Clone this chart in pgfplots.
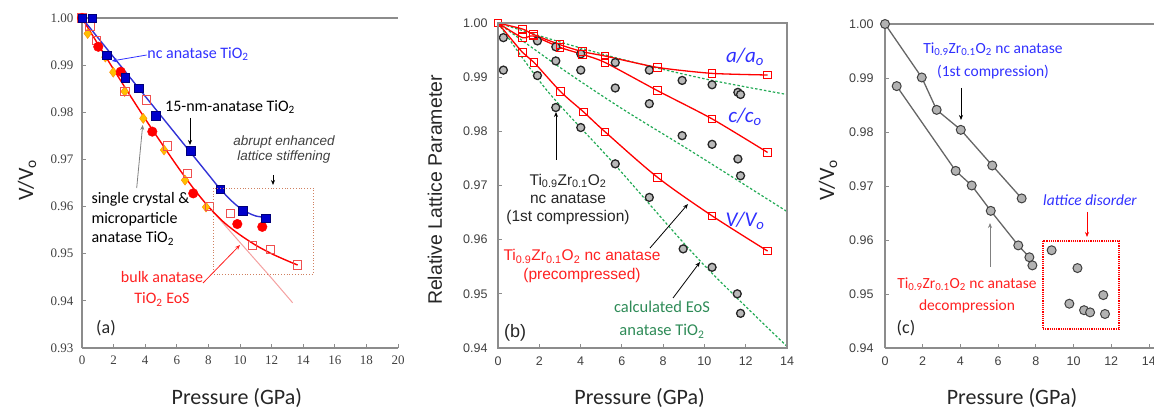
\documentclass[border=0pt]{standalone}
\usepackage{pgfplots}
\pgfplotsset{compat=1.18}
\usepackage{fontspec}
\setmainfont{Carlito}
\newfontfamily\arial{Liberation Sans}
\newfontfamily\serifnum{Liberation Serif}
\usetikzlibrary{arrows.meta}

\definecolor{axgray}{HTML}{8C8C8C}
\definecolor{tickgray}{HTML}{404040}
\definecolor{ncblue}{HTML}{0000CC}
\definecolor{txtblue}{HTML}{3030FF}
\definecolor{rred}{HTML}{FF0000}
\definecolor{txtred}{HTML}{FF2020}
\definecolor{gold}{HTML}{FFC000}
\definecolor{pinkline}{HTML}{F4A0A0}
\definecolor{eosgreen}{HTML}{22AA55}
\definecolor{txtgreen}{HTML}{2E8B57}
\definecolor{boxbrown}{HTML}{D08060}
\definecolor{opensq}{HTML}{F05050}

\pgfplotsset{
  myax/.style={
    scale only axis, anchor=south west, clip=false,
    axis line style={axgray, line width=1.2pt},
    tick style={axgray, line width=0.8pt},
    major tick length=4pt, tick align=inside,
    xtick pos=left, ytick pos=left,
    ticklabel style={tickgray},
    /pgf/number format/assume math mode=true,
    yticklabel style={/pgf/number format/fixed, /pgf/number format/fixed zerofill, /pgf/number format/precision=2},
    every axis x label/.style={anchor=center},
    every axis y label/.style={anchor=center, rotate=90},
  }
}

\begin{document}
\begin{tikzpicture}[x=1pt,y=1pt]
\useasboundingbox (0,0) rectangle (1154,410);

% ---------------- Panel (a) ----------------
\begin{axis}[myax, at={(82pt,62pt)}, width=316pt, height=330pt,
  xmin=0, xmax=20, ymin=0.93, ymax=1.0,
  axis y line*=left, axis x line*=box,
  xtick={0,2,4,6,8,10,12,14,16,18,20},
  ytick={0.93,0.94,0.95,0.96,0.97,0.98,0.99,1.00},
  ticklabel style={font=\serifnum\fontsize{13}{15}\selectfont},
  yticklabel style={xshift=-5pt},
  xticklabel style={yshift=-4pt},
  xlabel={Pressure (GPa)}, ylabel={V/V\textsubscript{o}},
  xlabel style={at={(axis description cs:0.49,-0.152)}, font=\fontsize{22}{24}\selectfont, color=black!85},
  ylabel style={at={(axis description cs:-0.174,0.509)}, font=\fontsize{22}{24}\selectfont, color=black!85},
]
\addplot[only marks, mark=diamond*, mark size=5pt, mark options={fill=gold, draw=orange!90!yellow}] table {
x y
0 1.0000
0.36 0.9967
1.48 0.9917
1.98 0.9885
2.70 0.9844
3.88 0.9787
5.19 0.9720
6.52 0.9656
7.85 0.9599
};
\addplot[only marks, mark=square, mark size=4.2pt, mark options={draw=opensq, line width=0.8pt}] table {
x y
0 1.0000
0.51 0.9982
0.93 0.9952
2.72 0.9844
4.09 0.9826
5.40 0.9729
6.66 0.9670
8.06 0.9601
9.41 0.9585
10.78 0.9518
11.94 0.9509
13.65 0.9476
};
\addplot[pinkline, line width=1pt, smooth] table {
x y
7.5 0.9620
8 0.9600
9 0.9562
10 0.9524
11 0.9486
12 0.9448
13.33 0.9396
};
\addplot[rred, line width=1.4pt, smooth] table {
x y
0 1.0000
1 0.9945
2 0.9891
3 0.9838
4 0.9786
5 0.9736
6 0.9687
7 0.9641
8 0.9600
9 0.9566
10 0.9540
11 0.9518
12 0.9500
13 0.9485
13.65 0.9476
};
\addplot[ncblue!80!white, line width=1.4pt, smooth] table {
x y
0 1.0000
2 0.9917
4 0.9834
6 0.9751
8 0.9668
8.75 0.9637
9.5 0.9611
10 0.9597
10.5 0.9587
11 0.9580
11.62 0.9577
};
\addplot[only marks, mark=*, mark size=4.8pt, mark options={fill=rred, draw=rred}] table {
x y
0 1.0000
1.03 0.9939
2.45 0.9886
4.45 0.9759
7.04 0.9628
9.83 0.9563
11.41 0.9557
};
\addplot[only marks, mark=square*, mark size=4.3pt, mark options={fill=ncblue, draw=ncblue!60!black}] table {
x y
0 1.0000
0.65 1.0000
1.56 0.9921
2.74 0.9873
3.59 0.9851
4.68 0.9793
6.88 0.9718
8.75 0.9637
10.17 0.9591
11.62 0.9575
};
\end{axis}

% ---------------- Panel (b) ----------------
\begin{axis}[myax, at={(498pt,62pt)}, width=289pt, height=325pt,
  xmin=0, xmax=14, ymin=0.94, ymax=1.0,
  xtick={0,2,4,6,8,10,12,14},
  ytick={0.94,0.95,0.96,0.97,0.98,0.99,1.00},
  ticklabel style={font=\arial\fontsize{12.5}{14}\selectfont},
  yticklabel style={xshift=-7pt},
  xticklabel style={yshift=-5pt},
  xlabel={Pressure (GPa)}, ylabel={\arial Relative Lattice Parameter},
  xlabel style={at={(axis description cs:0.49,-0.154)}, font=\fontsize{22}{24}\selectfont, color=black!85},
  ylabel style={at={(axis description cs:-0.218,0.486)}, font=\fontsize{19.5}{22}\selectfont, color=black!85},
]
\addplot[eosgreen, line width=1.2pt, dash pattern=on 2.5pt off 2pt, smooth] table {
x y
0 1.0000
3 0.9965
5.5 0.9938
7.7 0.9917
10.5 0.9893
14 0.9868
};
\addplot[eosgreen, line width=1.2pt, dash pattern=on 2.5pt off 2pt, smooth] table {
x y
0 1.0000
3 0.9918
6 0.9842
9.5 0.9760
14 0.9652
};
\addplot[eosgreen, line width=1.2pt, dash pattern=on 2.5pt off 2pt, smooth] table {
x y
0 1.0000
2.36 0.9876
5.6 0.9741
9.81 0.9560
14 0.9403
};
\addplot[only marks, mark=*, mark size=4pt, mark options={fill=gray!55, draw=black!85, line width=1.3pt}] table {
x y
0.26 0.9973
0.26 0.9913
1.91 0.9967
1.91 0.9903
2.80 0.9956
2.80 0.9930
2.80 0.9844
4.01 0.9943
4.01 0.9913
4.01 0.9807
5.68 0.9927
5.68 0.9880
5.68 0.9740
7.33 0.9913
7.33 0.9851
7.33 0.9678
8.92 0.9894
8.92 0.9792
8.97 0.9583
10.37 0.9886
10.37 0.9776
10.37 0.9549
11.62 0.9872
11.75 0.9868
11.62 0.9749
11.75 0.9718
11.59 0.9500
11.75 0.9464
};
\addplot[rred, line width=1.3pt, smooth, tension=0.4, mark=square, mark size=3.8pt, mark options={solid, line width=1pt}] table {
x y
0 1.0000
1.18 0.9989
1.71 0.9979
3.00 0.9960
4.10 0.9947
5.19 0.9939
7.73 0.9918
10.37 0.9907
13.06 0.9904
};
\addplot[rred, line width=1.3pt, smooth, tension=0.4, mark=square, mark size=3.8pt, mark options={solid, line width=1pt}] table {
x y
0 1.0000
1.18 0.9973
1.71 0.9976
3.00 0.9955
4.10 0.9942
5.19 0.9927
7.73 0.9875
10.37 0.9823
13.06 0.9761
};
\addplot[rred, line width=1.3pt, smooth, tension=0.5, mark=square, mark size=3.8pt, mark options={solid, line width=1pt}] table {
x y
0 1.0000
1.18 0.9946
1.75 0.9927
3.04 0.9873
4.14 0.9836
5.19 0.9799
7.73 0.9715
10.37 0.9644
13.06 0.9579
};
\end{axis}
\draw[axgray, line width=1.2pt] (498,62) rectangle (787,387);

% ---------------- Panel (c) ----------------
\begin{axis}[myax, at={(885pt,62pt)}, width=301.6pt, height=324pt,
  xmin=0, xmax=16, ymin=0.94, ymax=1.0,
  axis y line*=left, axis x line*=box,
  xtick={0,2,4,6,8,10,12,14,16},
  ytick={0.94,0.95,0.96,0.97,0.98,0.99,1.00},
  ticklabel style={font=\arial\fontsize{12.5}{14}\selectfont},
  yticklabel style={xshift=-8pt},
  xticklabel style={yshift=-5pt},
  xlabel={Pressure (GPa)}, ylabel={V/V\textsubscript{o}},
  xlabel style={at={(axis description cs:0.421,-0.154)}, font=\fontsize{22}{24}\selectfont, color=black!85},
  ylabel style={at={(axis description cs:-0.189,0.518)}, font=\fontsize{22}{24}\selectfont, color=black!85},
]
\addplot[black!60, line width=1.3pt, mark=*, mark size=4.5pt, mark options={fill=gray!60, draw=black!75, line width=1pt}] table {
x y
0 1.0000
1.95 0.9901
2.74 0.9841
4.02 0.9804
5.69 0.9738
7.25 0.9677
};
\addplot[black!60, line width=1.3pt, mark=*, mark size=4.5pt, mark options={fill=gray!60, draw=black!75, line width=1pt}] table {
x y
0.62 0.9885
3.75 0.9728
4.60 0.9701
5.61 0.9654
7.07 0.9590
7.66 0.9568
7.82 0.9553
};
\addplot[only marks, mark=*, mark size=4.5pt, mark options={fill=gray!60, draw=black!75, line width=1pt}] table {
x y
8.84 0.9581
10.21 0.9548
9.78 0.9482
10.56 0.9470
10.88 0.9466
11.58 0.9498
11.67 0.9463
};
\end{axis}

% ---------------- Annotations (a) ----------------
\node[txtblue, font=\fontsize{16}{18}\selectfont] at (198,356) {nc anatase TiO\textsubscript{2}};
\draw[txtblue, line width=0.8pt, -{Stealth[length=5pt,width=4pt]}] (146.7,355) -- (111.7,349);
\node[black, font=\fontsize{16}{18}\selectfont] at (230,303) {15-nm-anatase TiO\textsubscript{2}};
\draw[black, line width=0.8pt, -{Stealth[length=5pt,width=4pt]}] (190,292) -- (190,265);
\node[black!75, font=\arial\itshape\fontsize{13.5}{15}\selectfont, align=center] at (284,260) {abrupt enhanced\\lattice stiffening};
\draw[black, line width=0.8pt, -{Stealth[length=5pt,width=4pt]}] (273,235) -- (273,225);
\draw[boxbrown, line width=0.8pt, dotted] (213,222) rectangle (313,136);
\node[black, font=\fontsize{16}{19.5}\selectfont, align=left, anchor=west] at (88,191) {single crystal \&\\microparticle\\anatase TiO\textsubscript{2}};
\draw[gray, line width=0.8pt, -{Stealth[length=5pt,width=4pt]}] (136.7,222) -- (142.7,285);
\node[txtred, font=\fontsize{16}{21}\selectfont, align=center] at (162,121) {bulk anatase\\TiO\textsubscript{2} EoS};
\draw[txtred, line width=0.8pt, -{Stealth[length=5pt,width=4pt]}] (203,127) -- (240,165);
\node[black!85, font=\fontsize{18}{20}\selectfont] at (106,82) {(a)};

% ---------------- Annotations (b) ----------------
\node[txtblue, font=\itshape\fontsize{21}{23}\selectfont] at (745,353) {a/a\textsubscript{o}};
\node[txtblue, font=\itshape\fontsize{21}{23}\selectfont] at (745,293) {c/c\textsubscript{o}};
\node[txtblue, font=\itshape\fontsize{21}{23}\selectfont] at (745,189) {V/V\textsubscript{o}};
\node[black!85, font=\arial\fontsize{15.5}{18}\selectfont, align=center] at (568,211) {Ti\textsubscript{0.9}Zr\textsubscript{0.1}O\textsubscript{2}\\nc anatase\\(1st compression)};
\draw[black, line width=0.8pt, -{Stealth[length=5pt,width=4pt]}] (556,250) -- (556,298);
\node[txtred, font=\arial\fontsize{15.5}{19}\selectfont, align=center] at (582,144) {Ti\textsubscript{0.9}Zr\textsubscript{0.1}O\textsubscript{2} nc anatase\\(precompressed)};
\draw[black, line width=0.8pt, -{Stealth[length=5pt,width=4pt]}] (650,162) -- (688,206);
\node[txtgreen, font=\fontsize{16.5}{23}\selectfont, align=center] at (662,90) {calculated EoS\\anatase TiO\textsubscript{2}};
\draw[black, line width=0.8pt, -{Stealth[length=5pt,width=4pt]}] (673,112) -- (700,148);
\node[black!85, font=\arial\fontsize{18}{20}\selectfont] at (515,77) {(b)};

% ---------------- Annotations (c) ----------------
\node[txtblue, font=\fontsize{15.5}{23}\selectfont, align=center] at (993,349) {Ti\textsubscript{0.9}Zr\textsubscript{0.1}O\textsubscript{2} nc anatase\\(1st compression)};
\draw[black, line width=0.8pt, -{Stealth[length=5pt,width=4pt]}] (961,322) -- (961,290);
\node[txtred, font=\fontsize{15.5}{22}\selectfont, align=center] at (967,115) {Ti\textsubscript{0.9}Zr\textsubscript{0.1}O\textsubscript{2} nc anatase\\decompression};
\draw[gray, line width=0.8pt, -{Stealth[length=5pt,width=4pt]}] (990,143) -- (990,187);
\draw[red, line width=1.2pt, densely dotted] (1043,169) rectangle (1119,81);
\node[txtblue, font=\itshape\fontsize{15.5}{18}\selectfont] at (1090,210) {lattice disorder};
\draw[red, line width=0.8pt, -{Stealth[length=5pt,width=4pt]}] (1087,198) -- (1087,173);
\node[black!85, font=\fontsize{18}{20}\selectfont] at (906,82) {(c)};
\end{tikzpicture}
\end{document}
